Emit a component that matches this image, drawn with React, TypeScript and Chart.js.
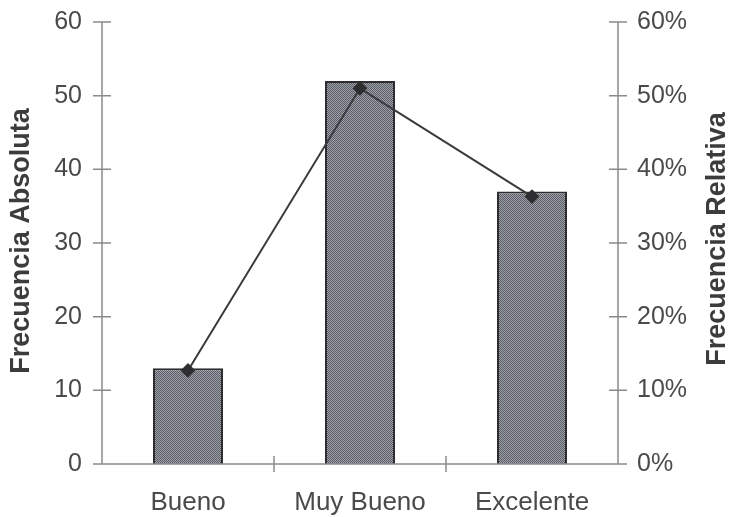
import React, { useEffect, useRef } from "react";
import { Chart, registerables } from "chart.js";

Chart.register(...registerables);

const categories = ["Bueno", "Muy Bueno", "Excelente"];
const absoluteFreq = [13, 52, 37];
const relativeFreq = [12.7, 51.0, 36.3];
const leftTicks = [0, 10, 20, 30, 40, 50, 60];
const rightTicks = [0, 10, 20, 30, 40, 50, 60];

const FONT = "'Liberation Sans', Arial, sans-serif";

function makePattern(): CanvasPattern | string {
  const c = document.createElement("canvas");
  c.width = 2;
  c.height = 2;
  const g = c.getContext("2d");
  if (!g) return "#80838c";
  g.fillStyle = "#a0a2aa";
  g.fillRect(0, 0, 2, 2);
  g.fillStyle = "#595c66";
  g.fillRect(0, 0, 1, 1);
  g.fillRect(1, 1, 1, 1);
  const p = g.createPattern(c, "repeat");
  return p || "#80838c";
}

const axesPlugin = {
  id: "customAxes",
  afterDraw(chart: any) {
    const ctx = chart.ctx;
    const { left, right, top, bottom } = chart.chartArea;
    const y = chart.scales.y;
    const y1 = chart.scales.y1;
    const x = chart.scales.x;
    ctx.save();
    ctx.strokeStyle = "#8a8a8e";
    ctx.lineWidth = 1.5;
    ctx.beginPath();
    ctx.moveTo(left, top);
    ctx.lineTo(left, bottom);
    ctx.moveTo(right, top);
    ctx.lineTo(right, bottom);
    ctx.moveTo(left, bottom);
    ctx.lineTo(right, bottom);
    leftTicks.forEach((v) => {
      const py = y.getPixelForValue(v);
      ctx.moveTo(left - 9, py);
      ctx.lineTo(left + 9, py);
    });
    rightTicks.forEach((v) => {
      const py = y1.getPixelForValue(v);
      ctx.moveTo(right - 9, py);
      ctx.lineTo(right + 9, py);
    });
    for (let i = 1; i < categories.length; i++) {
      const px = (x.getPixelForTick(i - 1) + x.getPixelForTick(i)) / 2;
      ctx.moveTo(px, bottom - 8);
      ctx.lineTo(px, bottom + 8);
    }
    ctx.stroke();

    ctx.fillStyle = "#3c3c3c";
    ctx.font = `bold 27px ${FONT}`;
    ctx.textAlign = "center";
    ctx.textBaseline = "middle";
    ctx.save();
    ctx.translate(22, 241);
    ctx.rotate(-Math.PI / 2);
    ctx.fillText("Frecuencia Absoluta", 0, 0);
    ctx.restore();
    ctx.save();
    ctx.translate(718, 239);
    ctx.rotate(-Math.PI / 2);
    ctx.fillText("Frecuencia Relativa", 0, 0);
    ctx.restore();
    ctx.restore();
  },
};

export default function App() {
  const ref = useRef<HTMLCanvasElement>(null);
  useEffect(() => {
    document.body.style.margin = "0";
    const canvas = ref.current;
    if (!canvas) return;
    const chart = new Chart(canvas, {
      type: "bar",
      data: {
        labels: categories,
        datasets: [
          {
            type: "line",
            data: relativeFreq,
            yAxisID: "y1",
            borderColor: "#3a3a3c",
            borderWidth: 2,
            pointStyle: "rectRot",
            pointRadius: 6,
            pointBackgroundColor: "#2e2e30",
            pointBorderColor: "#2e2e30",
            order: 0,
          } as any,
          {
            type: "bar",
            data: absoluteFreq,
            yAxisID: "y",
            backgroundColor: makePattern() as any,
            borderColor: "#2e2e32",
            borderWidth: 2,
            barPercentage: 0.407,
            categoryPercentage: 1,
            order: 1,
          },
        ],
      },
      options: {
        animation: false,
        responsive: false,
        maintainAspectRatio: false,
        layout: { padding: { top: 22, left: 0, right: 0, bottom: 0 } },
        plugins: {
          legend: { display: false },
          tooltip: { enabled: false },
        },
        scales: {
          x: {
            grid: { display: false, tickLength: 0 },
            border: { display: false },
            ticks: {
              color: "#4a4a4a",
              font: { family: FONT, size: 26 },
              padding: 23,
            },
            afterFit: (s: any) => {
              s.height = 53;
              s.paddingLeft = 0;
              s.paddingRight = 0;
            },
          },
          y: {
            position: "left",
            min: 0,
            max: 60,
            grid: { display: false, tickLength: 0 },
            border: { display: false },
            afterBuildTicks: (s: any) => {
              s.ticks = leftTicks.map((v) => ({ value: v }));
            },
            ticks: {
              color: "#4a4a4a",
              font: { family: FONT, size: 25 },
              padding: 20,
            },
            afterFit: (s: any) => {
              s.width = 102;
              s.paddingTop = 0;
              s.paddingBottom = 0;
            },
          },
          y1: {
            position: "right",
            min: 0,
            max: 60,
            grid: { display: false, tickLength: 0 },
            border: { display: false },
            afterBuildTicks: (s: any) => {
              s.ticks = rightTicks.map((v) => ({ value: v }));
            },
            ticks: {
              color: "#4a4a4a",
              font: { family: FONT, size: 25 },
              padding: 19,
              callback: (v: any) => `${v}%`,
            },
            afterFit: (s: any) => {
              s.width = 113;
              s.paddingTop = 0;
              s.paddingBottom = 0;
            },
          },
        },
      },
      plugins: [axesPlugin],
    });
    return () => chart.destroy();
  }, []);
  return <canvas ref={ref} width={731} height={517} style={{ display: "block" }} />;
}
